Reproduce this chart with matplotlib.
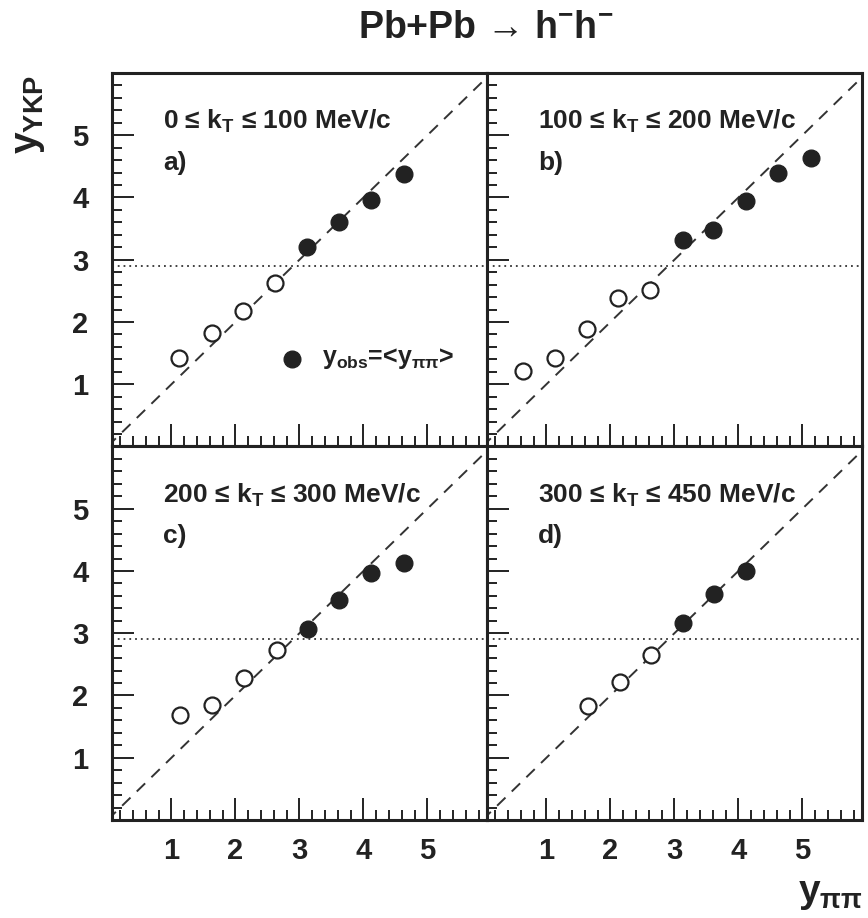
import matplotlib.pyplot as plt
from matplotlib.ticker import MultipleLocator

plt.rcParams['font.family'] = ['Liberation Sans', 'DejaVu Sans']
plt.rcParams['font.weight'] = 'bold'
plt.rcParams['mathtext.fontset'] = 'custom'
plt.rcParams['mathtext.rm'] = 'Liberation Sans:bold'
plt.rcParams['mathtext.it'] = 'Liberation Sans:bold'
plt.rcParams['mathtext.bf'] = 'Liberation Sans:bold'
plt.rcParams['mathtext.default'] = 'regular'

# y_pipi (x) and y_YKP (y) per k_T bin; open = below y_cm, filled = above
labels = ['0 ≤ k$_{T}$ ≤ 100 MeV/c', '100 ≤ k$_{T}$ ≤ 200 MeV/c',
          '200 ≤ k$_{T}$ ≤ 300 MeV/c', '300 ≤ k$_{T}$ ≤ 450 MeV/c']
letters = ['a)', 'b)', 'c)', 'd)']

open_x = [[1.11, 1.63, 2.12, 2.62],
          [0.64, 1.14, 1.63, 2.12, 2.62],
          [1.14, 1.64, 2.13, 2.65],
          [1.65, 2.15, 2.63]]
open_y = [[1.42, 1.83, 2.18, 2.62],
          [1.21, 1.42, 1.89, 2.38, 2.52],
          [1.69, 1.85, 2.28, 2.73],
          [1.83, 2.21, 2.65]]
open_err = [[0.06, 0.07, 0.07, 0.07],
            [0.08, 0.06, 0.07, 0.08, 0.06],
            [0.09, 0.08, 0.06, 0.07],
            [0.06, 0.07, 0.07]]

fill_x = [[3.12, 3.62, 4.12, 4.63],
          [3.13, 3.61, 4.12, 4.62, 5.13],
          [3.13, 3.62, 4.12, 4.63],
          [3.13, 3.62, 4.12]]
fill_y = [[3.20, 3.60, 3.96, 4.37],
          [3.31, 3.48, 3.94, 4.40, 4.64],
          [3.06, 3.54, 3.97, 4.12],
          [3.17, 3.63, 4.00]]
fill_err = [[0.05, 0.05, 0.06, 0.06],
            [0.06, 0.06, 0.06, 0.07, 0.10],
            [0.05, 0.06, 0.06, 0.11],
            [0.05, 0.06, 0.06]]

y_cm = 2.9

fig, axes = plt.subplots(2, 2, figsize=(8.68, 9.18), dpi=100, sharex=True, sharey=True)
fig.subplots_adjust(left=0.129, right=0.993, top=0.9205, bottom=0.1068, wspace=0, hspace=0)

for i, ax in enumerate(axes.flat):
    ax.plot([0, 6], [0, 6], color='#333333', lw=1.4, ls=(0, (6, 4.5)))
    ax.axhline(y_cm, color='#333333', lw=1.3, ls=(0, (1, 2.2)))
    ax.errorbar(open_x[i], open_y[i], yerr=open_err[i], fmt='o', ms=11.5, mfc='white',
                mec='#222222', mew=1.6, ecolor='#222222', elinewidth=1.2, capsize=0)
    ax.errorbar(fill_x[i], fill_y[i], yerr=fill_err[i], fmt='o', ms=12, mfc='#222222',
                mec='#222222', ecolor='#222222', elinewidth=1.2, capsize=0)
    ax.text(0.136, 0.87, labels[i], transform=ax.transAxes, fontsize=19,
            fontweight='bold', ha='left', va='center', color='#222222')
    ax.text(0.136, 0.76, letters[i], transform=ax.transAxes, fontsize=19,
            fontweight='bold', ha='left', va='center', color='#222222')

    ax.set_xlim(0.07, 5.93)
    ax.set_ylim(0, 6)
    ax.set_xticks([1, 2, 3, 4, 5])
    ax.set_yticks([1, 2, 3, 4, 5])
    ax.xaxis.set_minor_locator(MultipleLocator(0.2))
    ax.yaxis.set_minor_locator(MultipleLocator(0.2))
    ax.tick_params(which='both', direction='in', top=False, right=False,
                   width=1.4, color='#222222', labelsize=21, labelcolor='#222222')
    ax.tick_params(which='major', length=16)
    ax.tick_params(which='minor', length=7)
    ax.tick_params(axis='x', pad=12)
    ax.tick_params(axis='y', pad=17)
    for lab in ax.get_xticklabels() + ax.get_yticklabels():
        lab.set_fontweight('bold')
    for sp in ax.spines.values():
        sp.set_linewidth(2.2)
        sp.set_color('#222222')

# legend in panel a
ax = axes[0, 0]
ax.plot([0.479], [0.235], 'o', ms=12, color='#222222', transform=ax.transAxes)
ax.text(0.559, 0.235, 'y$_{obs}$=<y$_{ππ}$>', transform=ax.transAxes, fontsize=18,
        fontweight='bold', ha='left', va='center', color='#222222')

fig.text(0.56, 0.97, 'Pb+Pb → h$^{-}$h$^{-}$', fontsize=27, fontweight='bold',
         ha='center', va='center', color='#222222')
fig.text(0.033, 0.875, 'y$_{YKP}$', rotation=90, fontsize=28, fontweight='bold',
         ha='center', va='center', color='#222222')
fig.text(0.957, 0.026, 'y$_{ππ}$', fontsize=28, fontweight='bold',
         ha='center', va='center', color='#222222')

fig.savefig('out.png', dpi=100)
